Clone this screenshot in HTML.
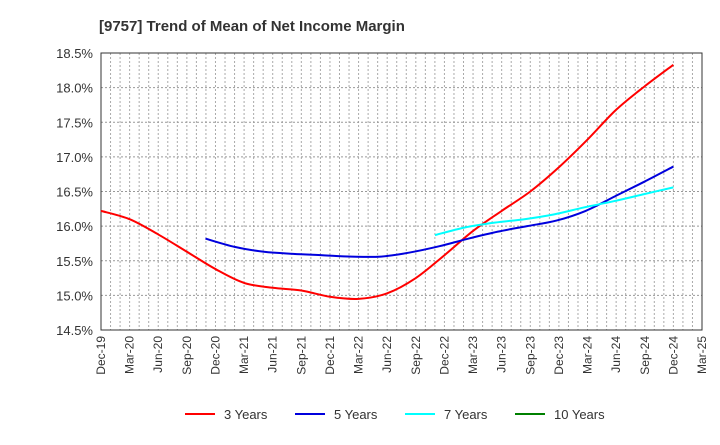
<!DOCTYPE html>
<html><head><meta charset="utf-8">
<style>
body{margin:0;background:#fff;font-family:"Liberation Sans",Arial,sans-serif}
svg text{font-family:"Liberation Sans",Arial,sans-serif}
</style></head>
<body>
<svg id="chart" width="720" height="440">
<text x="99" y="31" font-size="15" font-weight="bold" fill="#333">[9757]  Trend of Mean of Net Income Margin</text>
<g id="grid"></g><g id="axes"></g><g id="series"></g><g id="legend"></g>
</svg>
<script>
const xLabels=["Dec-19","Mar-20","Jun-20","Sep-20","Dec-20","Mar-21","Jun-21","Sep-21","Dec-21","Mar-22","Jun-22","Sep-22","Dec-22","Mar-23","Jun-23","Sep-23","Dec-23","Mar-24","Jun-24","Sep-24","Dec-24","Mar-25"];
const yTicks=[14.5,15.0,15.5,16.0,16.5,17.0,17.5,18.0,18.5];
const seriesNames=["3 Years","5 Years","7 Years","10 Years"];
const seriesStart=[0,3.65,11.67,0];
const seriesEnd=[20,20,20,20];
const s3=[16.22,16.1,15.88,15.63,15.38,15.18,15.11,15.07,14.98,14.95,15.03,15.25,15.58,15.93,16.22,16.5,16.85,17.25,17.68,18.02,18.33];
const s5=[15.82,15.7,15.63,15.6,15.58,15.56,15.56,15.62,15.71,15.82,15.92,16.0,16.08,16.22,16.43,16.64,16.86];
const s7=[15.87,15.98,16.05,16.1,16.17,16.27,16.36,16.46,16.56];
const s10=[];
const colors=["#ff0000","#0000dd","#00ffff","#008000"];
const L=101,R=702,T=53,B=330,NS="http://www.w3.org/2000/svg";
const xs=i=>L+(R-L)*i/(xLabels.length-1);
const ys=v=>B-(v-14.5)/(18.5-14.5)*(B-T);
function mk(t,a,p){const e=document.createElementNS(NS,t);for(const k in a)e.setAttribute(k,a[k]);p.appendChild(e);return e;}
const grid=document.getElementById('grid'),axes=document.getElementById('axes'),ser=document.getElementById('series'),leg=document.getElementById('legend');
for(let m=1;m<(xLabels.length-1)*3;m++){const x=L+(R-L)*m/((xLabels.length-1)*3);
 const g=mk('line',{x1:x,x2:x,y1:T,y2:B,stroke:'#aaa','stroke-dasharray':'2,2','stroke-width':1},grid);
 
 }
yTicks.forEach(v=>{const y=ys(v);
 const g=mk('line',{x1:L,x2:R,y1:y,y2:y,stroke:'#999','stroke-dasharray':'2,2'},grid);
 
 
 const t=mk('text',{x:L-8,y:y+5,'text-anchor':'end','font-size':13,fill:'#333'},axes);t.textContent=v.toFixed(1)+'%';
 
 });
xLabels.forEach((lab,i)=>{const x=xs(i);
 const t=mk('text',{x:0,y:0,'text-anchor':'end','font-size':12,fill:'#333',transform:`translate(${x+4},${B+6}) rotate(-90)`},axes);t.textContent=lab;
 
 });
const fr=mk('rect',{x:L,y:T,width:R-L,height:B-T,fill:'none',stroke:'#333','stroke-width':1},axes);


function path(pts){if(pts.length<2)return '';let d=`M${pts[0][0]},${pts[0][1]}`;
 for(let i=0;i<pts.length-1;i++){const p0=pts[Math.max(i-1,0)],p1=pts[i],p2=pts[i+1],p3=pts[Math.min(i+2,pts.length-1)];
  d+=` C${p1[0]+(p2[0]-p0[0])/6},${p1[1]+(p2[1]-p0[1])/6} ${p2[0]-(p3[0]-p1[0])/6},${p2[1]-(p3[1]-p1[1])/6} ${p2[0]},${p2[1]}`;}return d;}
[s3,s5,s7,s10].forEach((s,k)=>{
 const st=seriesStart[k],step=s.length>1?(seriesEnd[k]-st)/(s.length-1):0;
 const pts=s.map((v,i)=>[xs(st+i*step),ys(v)]);
 if(pts.length>1){const p=mk('path',{d:path(pts),fill:'none',stroke:colors[k],'stroke-width':2},ser);
 
 }
 const lx=185+k*110;
 const g=mk('g',{},leg);
 
 
 mk('line',{x1:lx,x2:lx+30,y1:414,y2:414,stroke:colors[k],'stroke-width':2},g);
 const t=mk('text',{x:lx+39,y:419,'font-size':13,fill:'#333'},g);t.textContent=seriesNames[k];});
</script>
</body></html>
